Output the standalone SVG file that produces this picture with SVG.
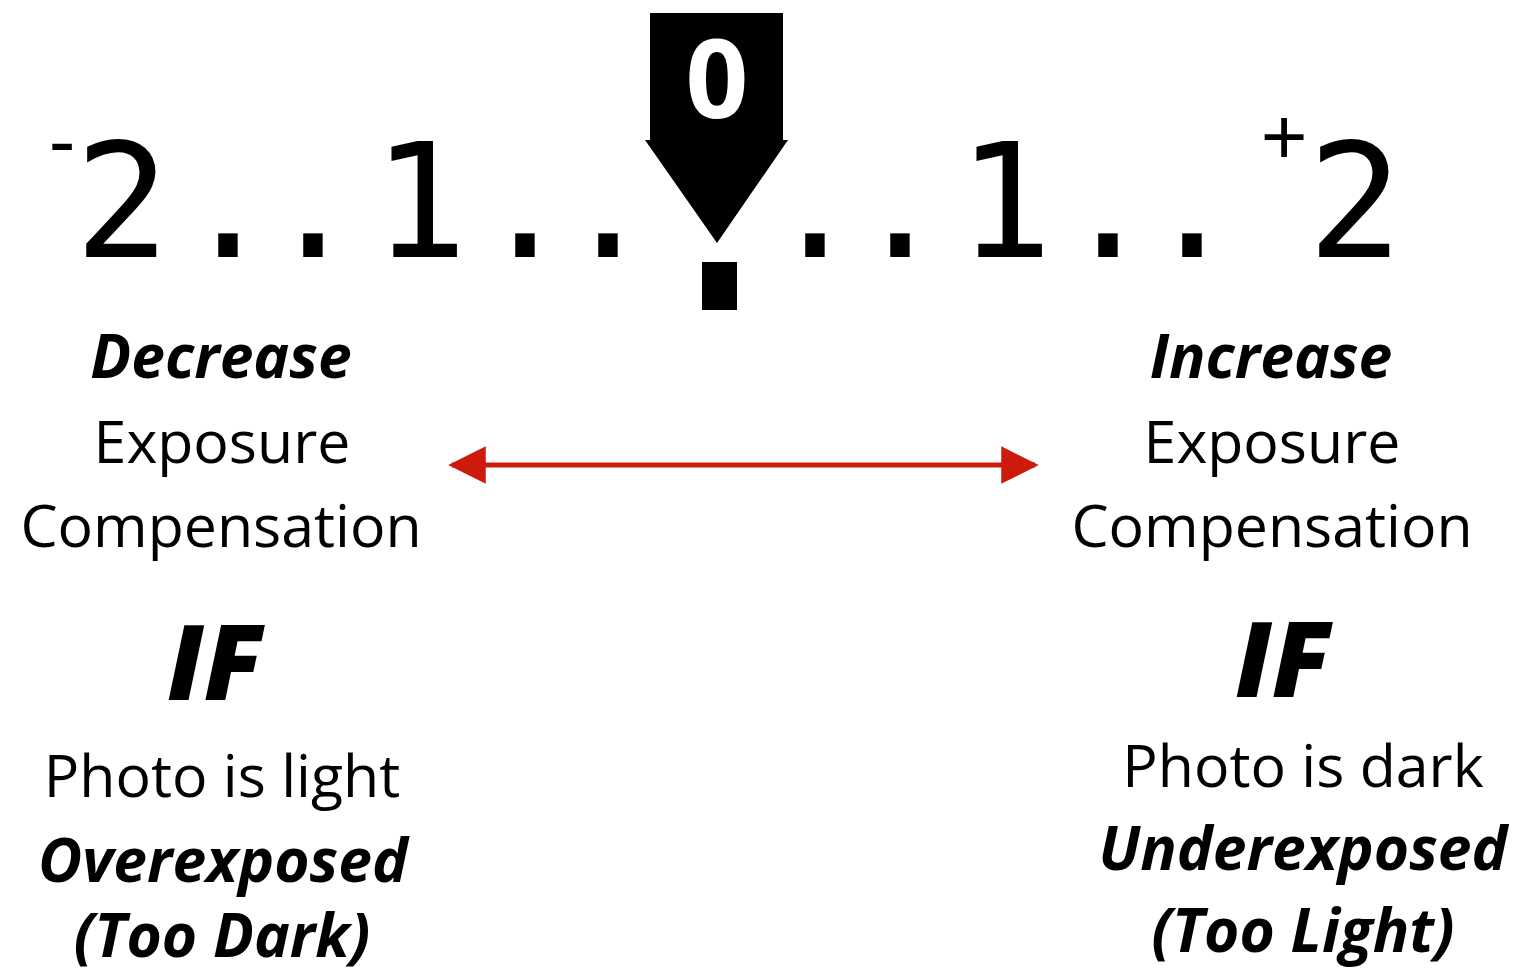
<svg xmlns="http://www.w3.org/2000/svg" width="1516" height="976" viewBox="0 0 1516 976">
  <defs>
    <style>
      .scale { font-family: "DejaVu Sans Mono", "Liberation Mono", monospace; font-size: 158px; fill: #000; text-anchor: middle; }
      .sign { font-family: "Liberation Sans", Arial, sans-serif; font-size: 80px; fill: #000; text-anchor: middle; }
      .lbl { font-family: "Open Sans", "Noto Sans", sans-serif; font-size: 59px; fill: #000; text-anchor: middle; }
      .em { font-weight: 700; font-style: italic; font-size: 60.5px; }
      .big { font-family: "Open Sans", "Noto Sans", sans-serif; font-size: 104px; font-weight: 800; font-style: italic; fill: #000; text-anchor: middle; }
      .zero { font-family: "Open Sans", "Noto Sans", sans-serif; font-size: 110px; font-weight: 700; fill: #fff; text-anchor: middle; }
    </style>
    <marker id="head" viewBox="0 0 10 10" refX="9" refY="5" markerWidth="7.5" markerHeight="7.5" markerUnits="strokeWidth" orient="auto-start-reverse">
      <path d="M0,0 L10,5 L0,10 Z" fill="#cc1b0c"/>
    </marker>
  </defs>
  <rect width="1516" height="976" fill="#fff"/>

  <!-- exposure scale: each glyph placed on its own tick -->
  <g id="scale">
    <text class="sign" x="62" y="168">-</text>
    <text class="scale" x="122 228 313 420 525 608" y="257">2..1..</text>
    <text class="scale" x="815 900 1005 1108 1192" y="257">..1..</text>
    <text class="sign" x="1284" y="164">+</text>
    <text class="scale" x="1355" y="257">2</text>
  </g>

  <!-- zero pointer -->
  <g id="pointer">
    <path d="M650,13 H783 V140 H788 L717,243 L645,140 H650 Z" fill="#000"/>
    <rect x="702" y="262" width="35" height="48" fill="#000"/>
    <text class="zero" x="717" y="118">0</text>
  </g>

  <g id="connectors">
    <line x1="452" y1="465" x2="1035" y2="465" stroke="#cc1b0c" stroke-width="5" marker-start="url(#head)" marker-end="url(#head)"/>
  </g>

  <g id="decrease">
    <text class="lbl em" x="221" y="378">Decrease</text>
    <text class="lbl" x="222" y="463">Exposure</text>
    <text class="lbl" x="221" y="547">Compensation</text>
  </g>

  <g id="increase">
    <text class="lbl em" x="1271" y="378">Increase</text>
    <text class="lbl" x="1272" y="463">Exposure</text>
    <text class="lbl" x="1272" y="547">Compensation</text>
  </g>

  <g id="if-light">
    <text class="big" x="215" y="700">IF</text>
    <text class="lbl" x="222" y="797">Photo is light</text>
    <text class="lbl em" x="223" y="882">Overexposed</text>
    <text class="lbl em" x="222" y="957">(Too Dark)</text>
  </g>

  <g id="if-dark">
    <text class="big" x="1283" y="697">IF</text>
    <text class="lbl" x="1303" y="787">Photo is dark</text>
    <text class="lbl em" x="1303" y="870">Underexposed</text>
    <text class="lbl em" x="1303" y="952">(Too Light)</text>
  </g>
</svg>
